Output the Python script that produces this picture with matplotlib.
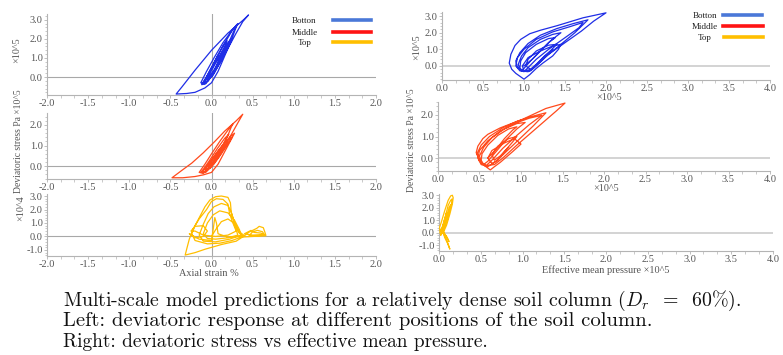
import matplotlib
matplotlib.use("Agg")
import matplotlib.pyplot as plt
from matplotlib.ticker import AutoMinorLocator, FormatStrFormatter

plt.rcParams['axes.unicode_minus'] = False
plt.rcParams['mathtext.fontset'] = 'cm'

# ---------------- data ----------------
# Left column: axial strain (%) vs deviatoric stress
bottom_strain_stress = [  # y in 1e5 Pa
    (0, 0), (0.06, 0.6), (0.12, 1.2), (0.17, 1.7), (0.19, 1.9),
    (0.15, 1.7), (0.07, 1.1), (0.0, 0.5), (-0.06, 0.0), (-0.1, -0.3),
    (-0.06, -0.25), (0.02, 0.2), (0.12, 1.0), (0.22, 1.9), (0.28, 2.5), (0.31, 2.75),
    (0.25, 2.45), (0.14, 1.8), (0.03, 1.0), (-0.06, 0.3), (-0.13, -0.3),
    (-0.08, -0.35), (0.02, 0.1), (0.15, 1.1), (0.3, 2.3), (0.38, 2.9), (0.45, 3.25),
    (0.39, 3.0), (0.2, 2.3), (0.0, 1.4), (-0.2, 0.36), (-0.36, -0.52), (-0.43, -0.89),
    (-0.3, -0.86), (-0.2, -0.8), (-0.08, -0.57), (0.0, -0.3), (0.08, 0.3), (0.16, 1.1),
    (0.24, 1.9), (0.29, 2.5), (0.32, 2.8),
    (0.26, 2.5), (0.15, 1.7), (0.05, 0.9), (-0.05, 0.1), (-0.12, -0.4),
    (-0.07, -0.35), (0.03, 0.2), (0.13, 1.0), (0.2, 1.6), (0.24, 2.0),
    (0.18, 1.7), (0.08, 1.0), (-0.02, 0.3), (-0.09, -0.3),
    (-0.04, -0.2), (0.06, 0.5), (0.15, 1.3), (0.22, 1.8),
    (0.16, 1.5), (0.06, 0.8), (-0.03, 0.1), (-0.08, -0.2),
    (0.0, 0.1), (0.1, 0.8), (0.18, 1.4), (0.12, 1.0), (0.02, 0.3), (-0.05, -0.1),
    (0.05, 0.4), (0.14, 1.0),
]
middle_strain_stress = [  # y in 1e5 Pa
    (0, 0), (0.07, 0.5), (0.14, 1.0), (0.19, 1.4), (0.21, 1.55),
    (0.16, 1.35), (0.07, 0.85), (-0.02, 0.3), (-0.09, -0.1), (-0.13, -0.3),
    (-0.08, -0.25), (0.02, 0.2), (0.12, 0.9), (0.2, 1.5), (0.24, 1.9), (0.26, 2.05),
    (0.2, 1.75), (0.1, 1.2), (0.0, 0.6), (-0.08, 0.1), (-0.15, -0.3),
    (-0.1, -0.35), (0.0, 0.0), (0.12, 0.7), (0.25, 1.6), (0.32, 2.1), (0.38, 2.52),
    (0.3, 2.2), (0.16, 1.7), (0.04, 1.2), (-0.1, 0.65), (-0.24, 0.15), (-0.36, -0.2), (-0.48, -0.56),
    (-0.35, -0.56), (-0.2, -0.5), (-0.1, -0.42), (0.0, -0.3), (0.08, 0.1), (0.16, 0.7),
    (0.24, 1.3), (0.28, 1.6),
    (0.22, 1.4), (0.12, 0.95), (0.02, 0.4), (-0.06, -0.05), (-0.12, -0.3),
    (-0.07, -0.3), (0.03, 0.1), (0.12, 0.6), (0.2, 1.1), (0.25, 1.4),
    (0.19, 1.25), (0.09, 0.8), (0.0, 0.3), (-0.08, -0.15),
    (-0.02, -0.1), (0.08, 0.4), (0.16, 0.9), (0.22, 1.2),
    (0.15, 0.95), (0.05, 0.5), (-0.04, 0.0), (0.02, 0.2), (0.12, 0.7), (0.18, 1.0),
]
top_strain_stress = [  # y in 1e4 Pa
    (0, 0), (0.05, 0.5), (0.12, 1.1), (0.2, 1.3), (0.27, 1.0), (0.3, 0.5), (0.32, 0.1),
    (0.2, -0.1), (0.05, -0.2), (-0.05, -0.15), (-0.1, 0.2), (-0.05, 1.0), (0.02, 1.6),
    (0.1, 1.9), (0.2, 1.75), (0.28, 1.2), (0.34, 0.5), (0.36, 0.1),
    (0.22, -0.2), (0.05, -0.4), (-0.1, -0.35), (-0.15, 0.1), (-0.1, 0.9), (-0.04, 1.7),
    (0.03, 2.2), (0.12, 2.45), (0.2, 2.3), (0.24, 1.8), (0.28, 1.0), (0.33, 0.3), (0.38, 0.0),
    (0.25, -0.3), (0.1, -0.5), (-0.05, -0.55), (-0.2, -0.3), (-0.24, 0.2), (-0.2, 0.8),
    (-0.14, 1.5), (-0.08, 2.2), (-0.02, 2.7), (0.05, 2.95), (0.12, 3.0), (0.2, 2.9),
    (0.23, 2.5), (0.24, 1.8), (0.28, 1.0), (0.33, 0.4), (0.4, 0.05),
    (0.3, -0.35), (0.12, -0.6), (-0.08, -0.95), (-0.2, -1.2), (-0.32, -1.38),
    (-0.3, -0.9), (-0.27, -0.2), (-0.22, 0.6), (-0.15, 1.3), (-0.06, 2.0), (0.0, 2.6),
    (0.06, 2.8), (0.14, 2.75), (0.2, 2.4), (0.22, 1.7), (0.26, 1.0), (0.3, 0.4),
    (0.2, 0.1), (0.05, 0.0), (-0.1, 0.1), (-0.2, 0.4), (-0.25, 0.4), (-0.2, 0.75),
    (-0.1, 0.8), (-0.05, 0.4), (-0.1, 0.0), (-0.2, -0.1), (-0.27, 0.2),
    (-0.15, -0.2), (0.0, -0.3), (0.02, 0.5), (0.04, 1.4), (0.06, 1.0), (0.08, 0.2),
    (0.2, -0.05), (0.35, 0.0), (0.4, 0.05), (0.45, 0.3), (0.5, 0.45), (0.55, 0.6),
    (0.58, 0.75), (0.63, 0.65), (0.65, 0.3), (0.66, 0.1), (0.55, 0.05), (0.45, 0.0),
    (0.5, 0.35), (0.56, 0.45), (0.62, 0.35), (0.64, 0.15), (0.5, 0.1), (0.4, 0.2),
    (0.48, 0.45), (0.52, 0.3), (0.6, 0.25), (0.66, 0.05), (0.5, 0.0), (0.35, -0.05),
]

# Right column: effective mean pressure (1e5 Pa) vs deviatoric stress
bottom_p_q = [  # q in 1e5 Pa
    (1.0, 0.0), (1.1, 0.4), (1.2, 0.9), (1.3, 1.4), (1.38, 1.7), (1.3, 1.65), (1.15, 1.3),
    (1.02, 0.8), (0.96, 0.3), (0.95, -0.1), (0.97, -0.3), (1.0, -0.15), (1.08, 0.3),
    (1.2, 0.9), (1.32, 1.5), (1.45, 2.0), (1.35, 1.9), (1.2, 1.6), (1.05, 1.1), (0.97, 0.6),
    (0.93, 0.1), (0.95, -0.25), (1.0, -0.35), (1.05, -0.1), (1.15, 0.4), (1.3, 1.0),
    (1.5, 1.7), (1.67, 2.3), (1.72, 2.62), (1.55, 2.35), (1.35, 2.05), (1.15, 1.6),
    (1.0, 1.0), (0.92, 0.5), (0.9, 0.0), (0.95, -0.3), (1.05, -0.35), (1.12, -0.1),
    (1.25, 0.5), (1.45, 1.3), (1.62, 2.0), (1.78, 2.78), (1.6, 2.55), (1.4, 2.25),
    (1.2, 1.85), (1.05, 1.35), (0.95, 0.8), (0.9, 0.3), (0.92, -0.1), (1.0, -0.3),
    (1.08, -0.3), (1.15, 0.0), (1.3, 0.7), (1.5, 1.4), (1.7, 2.1), (1.85, 2.7), (2.0, 3.2),
    (1.72, 2.9), (1.4, 2.42), (1.2, 2.15), (1.07, 1.94), (0.96, 1.6), (0.89, 1.23),
    (0.84, 0.7), (0.82, 0.17), (0.85, -0.2), (0.9, -0.45), (1.0, -0.8),
    (1.07, -0.53), (1.15, -0.15), (1.23, 0.17), (1.35, 0.6), (1.42, 1.0), (1.45, 1.3),
    (1.35, 1.2), (1.2, 0.9), (1.05, 0.5), (0.98, 0.0), (1.0, -0.3), (1.1, -0.2),
    (1.2, 0.3), (1.32, 0.9), (1.4, 1.3), (1.3, 1.25), (1.15, 0.9), (1.05, 0.4),
    (1.02, 0.0), (1.08, -0.2), (1.15, 0.1), (1.25, 0.6), (1.35, 1.0),
]
middle_p_q = [  # q in 1e5 Pa
    (0.6, 0.0), (0.7, 0.4), (0.8, 0.9), (0.9, 1.3), (0.95, 1.45), (0.85, 1.35), (0.72, 1.05),
    (0.6, 0.6), (0.53, 0.2), (0.52, -0.1), (0.55, -0.3), (0.6, -0.15), (0.7, 0.3),
    (0.82, 0.85), (0.95, 1.35), (1.05, 1.65), (0.95, 1.6), (0.8, 1.35), (0.65, 0.95),
    (0.55, 0.5), (0.5, 0.1), (0.52, -0.25), (0.58, -0.35), (0.65, -0.1), (0.78, 0.45),
    (0.95, 1.05), (1.1, 1.55), (1.25, 1.98), (1.1, 1.85), (0.92, 1.6), (0.75, 1.25),
    (0.6, 0.8), (0.5, 0.35), (0.48, 0.0), (0.52, -0.3), (0.6, -0.4), (0.7, -0.15),
    (0.85, 0.4), (1.0, 0.95), (1.15, 1.5), (1.3, 2.1), (1.15, 1.95), (0.95, 1.7),
    (0.78, 1.4), (0.62, 1.0), (0.52, 0.6), (0.47, 0.2), (0.5, -0.15), (0.58, -0.35),
    (0.68, -0.3), (0.78, 0.0), (0.95, 0.6), (1.1, 1.1), (1.28, 1.7), (1.43, 2.2),
    (1.53, 2.55), (1.3, 2.3), (1.02, 1.8), (0.75, 1.4), (0.6, 1.1), (0.54, 0.9),
    (0.48, 0.55), (0.46, 0.25), (0.5, -0.1), (0.56, -0.35), (0.63, -0.55), (0.68, -0.4),
    (0.75, -0.2), (0.9, 0.3), (1.0, 0.65), (0.92, 0.9), (0.8, 0.7), (0.65, 0.35),
    (0.6, 0.0), (0.65, -0.25), (0.72, -0.1), (0.8, 0.3), (0.9, 0.75), (0.95, 1.0),
    (0.85, 0.9), (0.72, 0.55), (0.65, 0.15), (0.68, -0.1), (0.75, 0.1), (0.85, 0.5),
]
top_p_q = [  # q in 1e4 Pa
    (0.05, 0.0), (0.08, 0.8), (0.1, 1.5), (0.12, 1.65), (0.11, 1.2), (0.08, 0.6),
    (0.04, 0.1), (0.02, -0.2), (0.05, 0.3), (0.09, 1.2), (0.12, 2.0), (0.14, 2.25),
    (0.13, 1.8), (0.1, 1.1), (0.06, 0.4), (0.03, -0.1), (0.01, 0.0), (0.04, 0.5),
    (0.08, 1.4), (0.11, 2.2), (0.14, 2.6), (0.155, 2.7), (0.15, 2.3), (0.12, 1.6),
    (0.08, 0.8), (0.05, 0.2), (0.02, 0.1), (0.0, 0.3), (0.03, 0.9), (0.07, 1.8),
    (0.11, 2.6), (0.14, 2.95), (0.16, 3.0), (0.17, 2.8), (0.16, 2.3), (0.13, 1.5),
    (0.09, 0.6), (0.05, 0.0), (0.07, -0.4), (0.1, -0.8), (0.13, -1.3), (0.11, -0.9),
    (0.08, -0.4), (0.05, 0.0), (0.02, 0.3), (0.05, 0.1), (0.09, -0.3), (0.12, -0.7),
    (0.1, -0.4), (0.07, -0.1), (0.04, 0.2), (0.06, 0.9), (0.09, 1.6), (0.07, 1.0),
    (0.04, 0.4),
]

x_left_ticks = [-2.0, -1.5, -1.0, -0.5, 0.0, 0.5, 1.0, 1.5, 2.0]
x_right_ticks = [0.0, 0.5, 1.0, 1.5, 2.0, 2.5, 3.0, 3.5, 4.0]
legend_labels = ["Botton", "Middle", "Top"]
caption_lines = [
    "Multi-scale model predictions for a relatively dense soil column ($D_r$  =  60%).",
    "Left: deviatoric response at different positions of the soil column.",
    "Right: deviatoric stress vs effective mean pressure.",
]

# ---------------- styling ----------------
line_colors = ["#1f2ee6", "#ff4a1c", "#ffbe00"]
legend_colors = ["#4a78d8", "#ff1414", "#ffbf00"]
tick_color = "#555555"
spine_color = "#b4b4b4"
serif = ["Liberation Serif", "DejaVu Serif"]

W, H = 783, 355
fig = plt.figure(figsize=(W / 100, H / 100), dpi=100)
fig.patch.set_facecolor("white")


def px_axes(x0, x1, y0, y1):
    return fig.add_axes([x0 / W, 1 - y1 / H, (x1 - x0) / W, (y1 - y0) / H])


def style(ax, xlim, ylim, xticks, yticks, vline, zero_color, zero_lw):
    ax.set_xlim(*xlim)
    ax.set_ylim(*ylim)
    for s in ["top", "right"]:
        ax.spines[s].set_visible(False)
    for s in ["left", "bottom"]:
        ax.spines[s].set_color(spine_color)
        ax.spines[s].set_linewidth(0.8)
    ax.set_xticks(xticks)
    ax.set_yticks(yticks)
    ax.xaxis.set_minor_locator(AutoMinorLocator(3))
    ax.yaxis.set_minor_locator(AutoMinorLocator(5))
    ax.xaxis.set_major_formatter(FormatStrFormatter("%.1f"))
    ax.yaxis.set_major_formatter(FormatStrFormatter("%.1f"))
    ax.tick_params(which="major", length=2.5, width=0.6, color=spine_color,
                   labelsize=7.5, labelcolor=tick_color, pad=0.5)
    ax.tick_params(which="minor", length=1.8, width=0.5, color=spine_color)
    for lab in ax.get_xticklabels() + ax.get_yticklabels():
        lab.set_family(serif)
    ax.axhline(0, color=zero_color, lw=zero_lw, zorder=1)
    if vline:
        ax.axvline(0, color=zero_color, lw=zero_lw, zorder=1)


def draw(ax, pts, color):
    xs = [p[0] for p in pts]
    ys = [p[1] for p in pts]
    ax.plot(xs, ys, color=color, lw=0.9, solid_joinstyle="round", zorder=3)


# left column
ax1 = px_axes(47, 376, 14, 95)
style(ax1, (-2, 2), (-0.94, 3.3), x_left_ticks, [0.0, 1.0, 2.0, 3.0], True, "#a8a8a8", 0.8)
draw(ax1, bottom_strain_stress, line_colors[0])

ax2 = px_axes(47, 376, 113, 179)
style(ax2, (-2, 2), (-0.62, 2.58), x_left_ticks, [0.0, 1.0, 2.0], True, "#a8a8a8", 0.8)
draw(ax2, middle_strain_stress, line_colors[1])

ax3 = px_axes(47, 376, 194, 256)
style(ax3, (-2, 2), (-1.45, 3.15), x_left_ticks, [-1.0, 0.0, 1.0, 2.0, 3.0], True, "#a8a8a8", 0.8)
draw(ax3, top_strain_stress, line_colors[2])

# right column
ax4 = px_axes(442, 770, 12, 80)
style(ax4, (0, 4), (-0.85, 3.25), x_right_ticks, [0.0, 1.0, 2.0, 3.0], False, "#c8c8c8", 1.1)
draw(ax4, bottom_p_q, line_colors[0])

ax5 = px_axes(438, 770, 102, 171)
style(ax5, (0, 4), (-0.6, 2.6), x_right_ticks, [0.0, 1.0, 2.0], False, "#c8c8c8", 1.1)
draw(ax5, middle_p_q, line_colors[1])

ax6 = px_axes(439, 773, 194, 251)
style(ax6, (0, 4), (-1.45, 3.1), x_right_ticks, [-1.0, 0.0, 1.0, 2.0, 3.0], False, "#c8c8c8", 1.1)
draw(ax6, top_p_q, line_colors[2])


def ftext(x, y, s, **kw):
    kw.setdefault("family", serif)
    kw.setdefault("color", tick_color)
    fig.text(x / W, 1 - y / H, s, **kw)


# axis labels
ftext(17, 50, "×10^5", rotation=90, ha="center", va="center", fontsize=7.3)
ftext(19, 141, "Deviatoric stress Pa ×10^5", rotation=90, ha="center", va="center", fontsize=6.9)
ftext(21, 208, "×10^4", rotation=90, ha="center", va="center", fontsize=7.3)
ftext(209, 274, "Axial strain %", ha="center", va="center", fontsize=7.4)
ftext(417, 47, "×10^5", rotation=90, ha="center", va="center", fontsize=7.3)
ftext(411, 140, "Deviatoric stress Pa ×10^5", rotation=90, ha="center", va="center", fontsize=6.9)
ftext(609, 98, "×10^5", ha="center", va="center", fontsize=7.3)
ftext(606, 189, "×10^5", ha="center", va="center", fontsize=7.3)
ftext(606, 270, "Effective mean pressure ×10^5", ha="center", va="center", fontsize=7.4)

# legends
leg_left = [(304, 21, 333, 371), (305, 33, 333, 371), (305, 43, 333, 371)]
leg_right = [(705, 16, 723, 762), (705, 27, 723, 763), (705, 38, 724, 763)]
for (tx, ty, x0, x1), (rx, ry, r0, r1), lab, col in zip(leg_left, leg_right, legend_labels, legend_colors):
    for (a, b, c, d) in [(tx, ty, x0, x1), (rx, ry, r0, r1)]:
        ftext(a, b, lab, ha="center", va="center", fontsize=6.5, color="#222222")
        fig.add_artist(plt.Line2D([c / W, d / W], [1 - (b - 1) / H, 1 - (b - 1) / H],
                                  color=col, lw=2.6, transform=fig.transFigure))

# caption
for txt, y, fs in zip(caption_lines, [301, 321, 342], [14.3, 14.9, 13.9]):
    fig.text(63 / W, 1 - y / H, txt, family="cmr10", fontsize=fs, color="#111111",
             ha="left", va="center")

fig.savefig("out.png", dpi=100, facecolor="white")
